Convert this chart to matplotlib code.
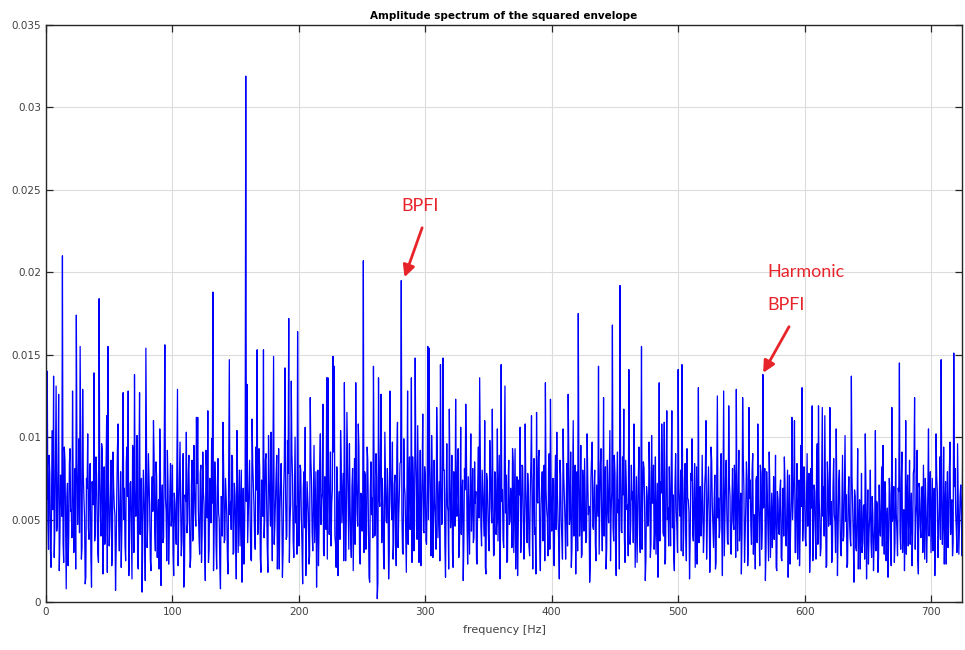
import numpy as np
import matplotlib
matplotlib.use("Agg")
import matplotlib.pyplot as plt
from matplotlib.ticker import FixedLocator, FixedFormatter

# ---- data (amplitude in units of 1e-3) ----
# values at whole-Hz bins 0..725 Hz
amplitude_e3 = [
    9.5, 14.0, 3.2, 7.8, 2.1, 10.4, 13.7, 4.5, 13.1, 5.0, 12.6, 3.9, 6.8, 21.0, 2.4, 8.6, 0.8, 7.2, 4.1, 9.3,
    5.6, 12.8, 3.0, 8.1, 17.4, 4.7, 9.9, 15.5, 2.6, 12.9, 6.3, 1.1, 7.5, 10.2, 3.8, 8.4, 0.9, 6.1, 13.9, 4.2,
    7.7, 2.9, 18.4, 5.3, 9.6, 1.7, 8.2, 4.0, 11.3, 15.5, 3.4, 7.0, 2.2, 9.1, 5.8, 0.7, 6.6, 10.8, 3.1, 7.9,
    4.4, 12.7, 6.9, 2.5, 9.4, 12.8, 3.6, 7.3, 1.4, 8.8, 13.8, 5.2, 10.1, 2.0, 12.7, 6.4, 0.6, 8.0, 4.9, 15.4,
    3.3, 9.0, 5.7, 1.9, 7.6, 11.0, 4.3, 8.5, 2.7, 6.2, 10.5, 1.0, 7.1, 3.9, 15.6, 5.5, 9.2, 2.3, 6.7, 4.6,
    8.3, 1.6, 6.0, 3.5, 12.9, 5.1, 9.7, 2.8, 7.4, 0.9, 6.5, 10.3, 4.8, 8.9, 2.1, 7.0, 3.7, 9.5, 5.4, 11.2,
    11.2, 4.0, 7.8, 2.4, 9.1, 5.9, 1.3, 8.2, 11.6, 3.2, 6.8, 9.9, 18.8, 4.5, 7.1, 2.0, 8.7, 5.0, 0.8, 6.3,
    10.9, 3.6, 7.5, 5.2, 1.7, 14.7, 6.1, 8.9, 2.9, 7.2, 4.4, 10.4, 3.0, 8.0, 5.6, 1.2, 6.9, 4.1, 31.9, 13.2,
    5.3, 8.6, 2.6, 11.1, 7.0, 3.9, 9.4, 15.3, 4.7, 8.1, 1.8, 6.6, 15.3, 5.1, 9.0, 3.3, 10.1, 6.0, 10.3, 2.5,
    14.9, 4.6, 7.7, 2.0, 9.3, 5.5, 8.4, 1.5, 6.8, 14.2, 3.8, 9.8, 17.2, 4.9, 13.4, 7.6, 2.7, 10.0, 5.8, 16.4,
    3.4, 8.3, 5.0, 1.1, 7.9, 10.6, 4.2, 6.4, 2.3, 12.4, 7.3, 3.1, 9.5, 5.7, 0.9, 8.0, 4.6, 10.2, 6.2, 12.0,
    2.8, 7.4, 13.6, 13.6, 4.1, 9.1, 6.0, 14.9, 14.3, 3.5, 8.2, 1.6, 6.7, 10.4, 4.8, 7.8, 13.3, 2.5, 11.5, 5.9,
    9.6, 3.7, 7.0, 1.9, 8.7, 13.3, 5.4, 10.8, 2.9, 6.6, 4.3, 20.7, 7.9, 3.2, 9.4, 5.1, 1.2, 8.5, 6.3, 14.3,
    4.0, 9.0, 0.2, 13.6, 5.8, 12.6, 7.5, 2.6, 10.3, 4.9, 8.1, 1.4, 12.8, 6.1, 9.7, 3.6, 7.7, 2.2, 10.9, 5.3,
    8.4, 19.5, 3.0, 9.9, 6.5, 1.8, 12.8, 7.2, 4.4, 13.6, 8.8, 3.1, 14.8, 6.9, 10.7, 2.4, 9.2, 5.6, 11.4, 4.2,
    7.6, 3.5, 15.5, 15.4, 6.2, 10.1, 2.7, 8.6, 5.0, 11.8, 3.9, 7.3, 14.4, 4.7, 14.8, 8.0, 1.5, 9.6, 5.5, 11.7,
    4.5, 8.9, 2.1, 7.0, 12.3, 5.2, 9.3, 3.4, 10.6, 6.4, 1.3, 8.1, 12.0, 4.8, 7.6, 2.9, 10.2, 5.9, 3.6, 8.5,
    6.7, 2.3, 9.4, 13.6, 4.6, 8.0, 5.3, 11.0, 1.7, 7.3, 3.8, 9.8, 5.7, 11.7, 2.8, 7.9, 4.1, 10.5, 6.2, 1.4,
    14.4, 6.8, 3.3, 13.1, 7.7, 2.5, 8.6, 4.9, 6.1, 9.3, 3.0, 9.3, 5.4, 1.6, 7.4, 10.6, 4.2, 8.2, 2.6, 10.8,
    5.1, 7.8, 3.4, 6.5, 11.3, 2.0, 8.7, 4.5, 11.5, 6.0, 9.2, 1.9, 7.1, 3.7, 8.3, 13.3, 5.6, 2.8, 9.0, 12.3,
    4.3, 7.5, 2.2, 8.9, 10.3, 5.0, 1.4, 7.7, 3.9, 10.5, 6.3, 2.6, 8.4, 12.6, 4.7, 9.1, 3.2, 11.0, 6.6, 1.7,
    7.9, 17.5, 4.0, 9.5, 2.9, 6.8, 8.7, 3.6, 10.2, 5.3, 1.2, 7.4, 9.7, 4.4, 8.0, 2.5, 6.1, 14.3, 5.8, 9.3,
    3.1, 12.4, 6.9, 2.0, 8.6, 4.8, 10.4, 5.5, 16.8, 3.7, 7.8, 1.6, 9.1, 6.2, 19.2, 4.3, 8.8, 11.7, 2.4, 7.2,
    5.9, 14.1, 3.5, 8.3, 6.7, 10.8, 2.1, 7.6, 4.9, 9.4, 3.0, 15.5, 6.4, 8.1, 1.3, 7.0, 4.6, 9.7, 2.7, 10.1,
    6.0, 3.2, 8.8, 5.1, 1.5, 13.3, 7.3, 10.8, 4.2, 10.9, 2.6, 11.6, 5.7, 8.2, 3.4, 11.6, 6.5, 1.9, 9.0, 4.5,
    14.1, 5.6, 8.0, 14.4, 2.8, 7.5, 4.1, 9.3, 6.2, 1.4, 7.8, 9.9, 3.7, 8.4, 5.0, 2.3, 13.0, 6.7, 4.0, 8.9,
    3.0, 7.1, 11.0, 4.8, 8.2, 1.8, 9.4, 5.9, 3.3, 7.7, 2.4, 12.5, 6.3, 4.5, 9.0, 1.6, 12.8, 5.2, 8.6, 3.6,
    11.9, 6.4, 2.9, 8.1, 4.4, 7.0, 12.9, 3.1, 9.2, 5.5, 1.7, 12.4, 6.8, 4.0, 8.5, 2.2, 11.8, 7.4, 3.5, 9.0,
    5.3, 2.0, 7.6, 10.8, 4.6, 8.3, 3.2, 13.8, 6.0, 1.3, 7.9, 4.3, 9.1, 2.7, 6.6, 5.0, 3.8, 8.9, 1.9, 6.2,
    4.1, 7.4, 2.5, 6.9, 8.8, 3.6, 5.8, 1.5, 7.7, 4.7, 11.2, 6.3, 11.0, 3.0, 8.4, 5.4, 2.2, 9.5, 13.0, 4.9,
    7.2, 3.4, 9.0, 5.5, 1.8, 8.1, 11.9, 4.2, 6.7, 2.6, 9.6, 11.9, 5.0, 3.3, 11.8, 7.0, 11.3, 2.1, 8.5, 4.6,
    11.8, 6.1, 3.0, 8.7, 4.9, 10.5, 1.6, 7.3, 5.2, 2.8, 8.9, 4.0, 10.1, 6.5, 2.3, 7.6, 3.9, 13.7, 5.7, 1.2,
    6.4, 3.1, 9.3, 4.5, 2.0, 7.8, 3.6, 5.9, 10.2, 1.4, 6.8, 4.2, 8.0, 2.7, 5.3, 3.5, 10.4, 6.1, 1.8, 7.1,
    4.0, 8.2, 9.5, 2.9, 6.6, 4.8, 1.5, 7.5, 3.8, 11.8, 5.6, 2.4, 8.7, 4.3, 6.9, 14.5, 3.2, 9.1, 5.0, 1.9,
    11.0, 6.3, 3.4, 8.6, 4.7, 2.2, 7.8, 12.4, 5.1, 9.2, 1.7, 6.9, 3.9, 7.0, 8.3, 2.6, 5.8, 4.4, 10.5, 6.2,
    3.0, 7.5, 5.3, 1.6, 10.2, 6.7, 4.1, 8.8, 14.7, 3.5, 9.4, 5.8, 2.3, 7.9, 4.6, 9.7, 6.0, 2.8, 15.1, 8.1,
    4.4, 9.6, 2.9, 6.4, 5.2, 8.9,
]
# values at half-Hz bins 0.5..725.5 Hz
amplitude_half_e3 = [
    6.2, 4.8, 8.9, 3.1, 7.4, 5.6, 2.7, 9.1, 4.3, 8.0, 1.9, 7.7, 5.2, 3.6, 9.4, 4.9, 6.3, 2.2, 8.4, 5.5,
    3.9, 7.1, 5.8, 2.0, 8.7, 6.6, 4.2, 9.0, 3.3, 7.8, 5.1, 1.5, 6.9, 4.5, 8.2, 2.8, 7.3, 5.9, 3.7, 8.8,
    5.4, 2.4, 7.6, 4.0, 9.2, 6.1, 3.5, 8.3, 1.8, 6.7, 4.6, 8.6, 2.9, 7.0, 5.3, 3.2, 9.3, 4.7, 6.0, 2.1,
    7.9, 5.0, 3.4, 8.5, 6.4, 1.6, 7.2, 4.4, 9.5, 3.0, 6.8, 5.7, 2.3, 8.1, 4.1, 7.5, 3.8, 6.5, 1.3, 8.9,
    4.8, 7.3, 2.6, 6.2, 5.5, 8.8, 3.1, 7.6, 4.9, 2.0, 8.0, 5.8, 3.6, 9.1, 6.3, 2.5, 7.1, 4.3, 8.4, 5.2,
    3.0, 6.6, 4.5, 8.2, 2.2, 7.4, 5.9, 3.7, 9.0, 1.7, 6.1, 4.2, 7.8, 5.0, 2.7, 8.6, 3.9, 6.9, 4.6, 7.2,
    5.6, 2.9, 8.3, 4.1, 6.7, 3.3, 9.2, 5.1, 2.4, 7.5, 4.8, 6.0, 1.9, 8.5, 3.5, 7.0, 5.4, 2.1, 6.4, 4.0,
    8.1, 3.8, 6.3, 2.6, 7.7, 5.3, 4.4, 8.7, 3.0, 6.5, 1.4, 7.9, 5.7, 3.4, 8.0, 4.7, 2.3, 7.2, 6.1, 3.6,
    7.0, 4.9, 2.5, 8.4, 5.8, 3.2, 6.8, 4.1, 9.3, 2.7, 7.4, 5.2, 3.9, 8.6, 6.0, 1.8, 7.6, 4.6, 5.5, 8.2,
    3.5, 6.2, 8.9, 4.3, 2.0, 7.1, 5.6, 3.0, 8.3, 6.6, 4.0, 7.8, 2.4, 5.9, 9.0, 3.7, 6.4, 4.8, 2.9, 7.5,
    5.1, 8.0, 3.3, 6.9, 4.5, 1.6, 7.3, 5.4, 2.8, 8.7, 4.2, 6.1, 3.6, 7.9, 5.0, 2.2, 8.4, 4.7, 6.6, 3.1,
    7.6, 4.4, 2.6, 8.2, 5.7, 3.4, 6.8, 9.1, 4.0, 2.1, 7.2, 5.5, 3.8, 8.5, 6.2, 2.5, 7.0, 4.9, 8.8, 3.2,
    6.0, 2.7, 8.1, 5.2, 3.5, 7.4, 4.6, 9.4, 2.3, 6.5, 5.8, 3.0, 7.7, 4.1, 8.6, 1.5, 6.7, 5.3, 3.9, 8.0,
    4.2, 7.5, 1.2, 6.3, 8.9, 3.6, 5.9, 2.0, 7.8, 4.8, 6.4, 3.1, 8.3, 5.0, 2.6, 7.1, 4.5, 9.2, 3.3, 6.6,
    8.5, 5.4, 2.9, 7.0, 4.0, 6.7, 3.5, 8.8, 5.6, 2.4, 7.3, 4.7, 9.0, 3.8, 6.2, 5.1, 2.2, 7.9, 4.3, 8.2,
    3.7, 6.9, 5.0, 8.4, 2.8, 7.6, 4.4, 6.1, 3.2, 9.1, 5.5, 2.5, 7.2, 4.9, 8.0, 3.4, 6.5, 5.8, 2.0, 7.7,
    5.3, 3.0, 7.9, 4.6, 6.3, 8.6, 2.7, 5.7, 4.1, 7.4, 3.6, 6.8, 9.3, 2.3, 5.2, 7.0, 4.3, 8.1, 3.9, 6.0,
    2.6, 7.3, 5.1, 8.7, 3.4, 6.6, 4.0, 2.1, 7.8, 5.6, 3.1, 8.2, 4.8, 6.4, 2.9, 7.5, 5.0, 3.7, 8.9, 4.5,
    6.1, 3.8, 8.0, 5.4, 2.4, 7.1, 4.7, 6.9, 3.3, 8.5, 5.9, 2.0, 7.6, 4.2, 6.5, 3.0, 8.3, 5.5, 4.0, 7.0,
    3.6, 6.7, 2.8, 8.4, 5.2, 7.3, 4.1, 1.7, 6.2, 8.8, 3.5, 5.8, 7.9, 4.6, 2.5, 6.8, 5.1, 8.1, 3.2, 7.4,
    5.7, 2.3, 7.0, 4.4, 6.6, 3.7, 8.6, 5.0, 2.6, 7.7, 4.9, 6.1, 3.4, 9.0, 5.3, 2.1, 7.2, 4.0, 8.3, 6.4,
    3.1, 7.8, 5.5, 2.7, 8.0, 4.3, 6.0, 3.9, 7.4, 5.8, 2.2, 8.7, 4.6, 6.9, 3.5, 7.1, 5.2, 2.9, 8.4, 4.8,
    6.3, 4.0, 8.2, 3.3, 5.9, 7.6, 2.5, 6.7, 4.5, 8.9, 3.0, 7.3, 5.4, 2.0, 7.9, 4.2, 6.5, 3.8, 8.6, 5.6,
    2.8, 7.0, 4.7, 6.2, 3.6, 8.1, 5.1, 2.4, 7.5, 4.1, 6.8, 3.2, 8.5, 5.7, 2.6, 6.4, 4.9, 7.7, 3.5, 6.0,
    8.3, 4.4, 2.9, 7.2, 5.3, 3.7, 6.6, 8.7, 4.0, 2.3, 7.8, 5.0, 3.4, 6.1, 8.0, 4.5, 2.7, 7.1, 5.6, 3.0,
    6.9, 5.2, 3.1, 7.7, 4.6, 8.4, 2.5, 6.3, 5.5, 3.8, 7.4, 4.2, 6.7, 2.1, 8.2, 5.0, 3.6, 7.0, 4.8, 6.1,
    4.3, 7.9, 2.6, 6.5, 5.8, 3.3, 8.6, 4.7, 6.2, 2.0, 7.3, 5.1, 3.9, 8.1, 4.4, 6.8, 2.8, 7.6, 5.4, 3.5,
    7.2, 3.0, 6.0, 4.9, 8.3, 2.7, 5.6, 7.0, 3.7, 6.6, 4.1, 8.8, 2.4, 5.9, 7.5, 3.2, 6.3, 4.6, 8.0, 2.9,
    5.0, 7.4, 3.6, 6.1, 2.2, 7.8, 4.4, 5.7, 8.1, 3.1, 6.4, 2.5, 7.0, 4.8, 3.3, 7.6, 5.3, 2.1, 6.7, 4.2,
    6.8, 2.7, 5.5, 4.0, 7.2, 3.4, 8.0, 4.9, 2.3, 6.2, 5.0, 7.7, 3.0, 6.5, 2.6, 7.4, 4.3, 5.8, 3.7, 8.2,
    3.9, 6.0, 4.6, 7.8, 3.2, 5.7, 2.5, 7.1, 4.1, 8.4, 3.5, 6.3, 2.8, 7.5, 5.2, 4.0, 6.9, 2.2, 7.3, 5.6,
    4.7, 2.4, 7.0, 5.3, 3.0, 6.6, 4.2, 8.0, 2.9, 6.1, 3.7, 7.2, 4.9, 2.1, 6.4, 5.0, 3.4, 7.6, 4.0, 6.8,
    3.3, 5.5, 2.0, 6.2, 4.1, 3.0, 5.8, 2.6, 6.9, 4.4, 2.3, 5.2, 3.7, 6.4, 1.9, 4.8, 3.1, 5.9, 2.7, 4.5,
    6.0, 3.4, 5.1, 7.3, 2.5, 5.7, 3.8, 6.5, 2.2, 4.9, 7.0, 3.6, 5.4, 2.8, 6.7, 4.2, 7.4, 3.0, 5.6, 4.3,
    2.9, 7.7, 5.0, 3.5, 6.6, 4.1, 8.1, 3.2, 5.9, 2.6, 7.2, 4.6, 6.3, 3.0, 5.3, 7.5, 2.4, 6.8, 4.0, 7.9,
    5.2, 3.1, 6.9, 4.4, 7.6, 2.7, 5.8, 3.8, 6.4, 4.9, 2.3, 7.3, 5.5, 3.3, 8.0, 4.1, 6.2, 3.6, 7.0, 5.4,
    3.0, 6.5, 4.7, 7.1, 2.8, 5.9,
]
freq_step_hz = 1.0

x_ticks = [0, 100, 200, 300, 400, 500, 600, 700]
x_tick_labels = ["0", "100", "200", "300", "400", "500", "600", "700"]
y_ticks = [0, 0.005, 0.01, 0.015, 0.02, 0.025, 0.03, 0.035]
y_tick_labels = ["0", "0.005", "0.01", "0.015", "0.02", "0.025", "0.03", "0.035"]

title_text = "Amplitude spectrum of the squared envelope"
xlabel_text = "frequency [Hz]"

bpfi_label = "BPFI"
bpfi_text_xy = (295.5, 0.0240)
bpfi_arrow_tail = (297.5, 0.0227)
bpfi_arrow_tip = (283.6, 0.0197)

harm_label_1 = "Harmonic"
harm_label_2 = "BPFI"
harm_text_xy_1 = (570.3, 0.0200)
harm_text_xy_2 = (570.3, 0.0180)
harm_arrow_tail = (587.7, 0.0167)
harm_arrow_tip = (567.2, 0.0139)

# ---- build series: interleave whole-Hz and half-Hz bins ----
amp_whole = np.array(amplitude_e3) * 1e-3
amp_half = np.array(amplitude_half_e3) * 1e-3
n = len(amp_whole)
amp = np.empty(2 * n)
amp[0::2] = amp_whole
amp[1::2] = amp_half
freq = np.empty(2 * n)
freq[0::2] = np.arange(n) * freq_step_hz
freq[1::2] = np.arange(n) * freq_step_hz + freq_step_hz / 2

fig = plt.figure(figsize=(9.65, 6.5), dpi=100)
ax = fig.add_axes([46 / 965, 1 - 602 / 650, (962 - 46) / 965, (602 - 25) / 650])

ax.plot(freq, amp, color="#0000ff", linewidth=0.9)

ax.set_xlim(0, 724.5)
ax.set_ylim(0, 0.035)

ax.xaxis.set_major_locator(FixedLocator(x_ticks))
ax.xaxis.set_major_formatter(FixedFormatter(x_tick_labels))
ax.yaxis.set_major_locator(FixedLocator(y_ticks))
ax.yaxis.set_major_formatter(FixedFormatter(y_tick_labels))

ax.grid(True, color="#dcdcdc", linewidth=0.8)
ax.set_axisbelow(True)
ax.tick_params(direction="in", length=5, width=0.9, colors="#262626",
               labelcolor="#404040", labelsize=7.5, top=True, right=True)
for s in ax.spines.values():
    s.set_color("#262626")
    s.set_linewidth(1.0)

ax.set_title(title_text, fontsize=7.5, fontweight="bold", pad=4)
ax.set_xlabel(xlabel_text, fontsize=8, color="#404040", labelpad=6)

red = "#e8242b"
ann_font = ["Lato", "DejaVu Sans"]
ax.text(*bpfi_text_xy, bpfi_label, color=red, fontsize=13, family=ann_font,
        ha="center", va="center")
ax.annotate("", xy=bpfi_arrow_tip, xytext=bpfi_arrow_tail,
            arrowprops=dict(arrowstyle="-|>,head_length=0.7,head_width=0.35",
                            color=red, lw=2, shrinkA=0, shrinkB=0))
ax.text(*harm_text_xy_1, harm_label_1, color=red, fontsize=13, family=ann_font,
        ha="left", va="center")
ax.text(*harm_text_xy_2, harm_label_2, color=red, fontsize=13, family=ann_font,
        ha="left", va="center")
ax.annotate("", xy=harm_arrow_tip, xytext=harm_arrow_tail,
            arrowprops=dict(arrowstyle="-|>,head_length=0.7,head_width=0.35",
                            color=red, lw=2, shrinkA=0, shrinkB=0))

fig.savefig("out.png", dpi=100)
